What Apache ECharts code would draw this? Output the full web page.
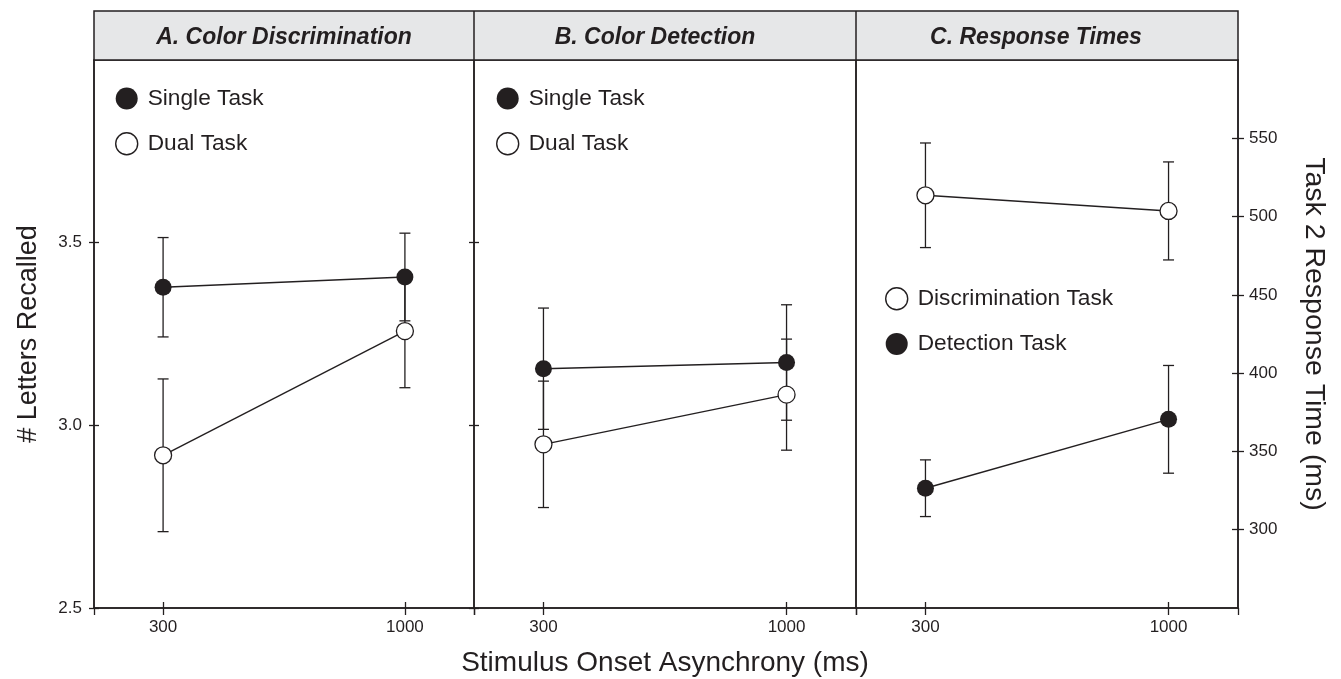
<!DOCTYPE html>
<html>
<head>
<meta charset="utf-8">
<script src="https://cdn.jsdelivr.net/npm/echarts@6/dist/echarts.min.js"></script>
<style>
  html, body { margin: 0; padding: 0; background: #ffffff; }
  #chart { width: 1341px; height: 679px; }
</style>
</head>
<body>
<div id="chart"></div>
<script>
// Stimulus onset asynchrony levels (ms)
const soa = [300, 1000];
const panelTitles = ['A. Color Discrimination', 'B. Color Detection', 'C. Response Times'];
const recallTicks = [2.5, 3.0, 3.5];
const rtTicks = [300, 350, 400, 450, 500, 550];

// Panel A: letters recalled, colour discrimination as task 2
const discSingle = [3.378, 3.406];
const discSingleErr = [0.136, 0.120];
const discDual = [2.918, 3.258];
const discDualErr = [0.209, 0.155];

// Panel B: letters recalled, colour detection as task 2
const detSingle = [3.155, 3.172];
const detSingleErr = [0.166, 0.158];
const detDual = [2.948, 3.084];
const detDualErr = [0.173, 0.152];

// Panel C: task 2 response times (ms)
const rtDisc = [513.6, 503.6];
const rtDiscErr = [33.4, 31.3];
const rtDet = [326.5, 370.5];
const rtDetErr = [18.1, 34.4];

const INK = '#231f20';
const FONT = '"Liberation Sans", Arial, Helvetica, sans-serif';

const pts = (vals) => soa.map((x, i) => [x, vals[i]]);
const bars = (vals, errs) => soa.map((x, i) => [x, vals[i] - errs[i], vals[i] + errs[i]]);

function renderErr(params, api) {
  const x = api.value(0);
  const lo = api.coord([x, api.value(1)]);
  const hi = api.coord([x, api.value(2)]);
  const cap = 5.5;
  const style = { stroke: INK, lineWidth: 1.3 };
  return {
    type: 'group',
    children: [
      { type: 'line', shape: { x1: lo[0], y1: lo[1], x2: hi[0], y2: hi[1] }, style },
      { type: 'line', shape: { x1: lo[0] - cap, y1: lo[1], x2: lo[0] + cap, y2: lo[1] }, style },
      { type: 'line', shape: { x1: hi[0] - cap, y1: hi[1], x2: hi[0] + cap, y2: hi[1] }, style }
    ]
  };
}

function errSeries(name, xi, yi, vals, errs) {
  return {
    name: name, type: 'custom', xAxisIndex: xi, yAxisIndex: yi, z: 1,
    renderItem: renderErr, encode: { x: 0, y: [1, 2] },
    data: bars(vals, errs), silent: true
  };
}

function lineSeries(name, xi, yi, vals, filled) {
  return {
    name: name, type: 'line', xAxisIndex: xi, yAxisIndex: yi, z: 3,
    data: pts(vals), symbol: 'circle', symbolSize: 17,
    lineStyle: { color: INK, width: 1.4 },
    itemStyle: filled
      ? { color: INK, borderColor: INK, borderWidth: 0 }
      : { color: '#ffffff', borderColor: INK, borderWidth: 1.3 },
    emphasis: { disabled: true }
  };
}

// Panel geometry
const gridLeft = [94, 474, 856];
const gridWidth = [380, 382, 382];
const gridTop = 60, gridHeight = 548;

const grids = gridLeft.map((l, i) => ({
  left: l, top: gridTop, width: gridWidth[i], height: gridHeight,
  outerBoundsMode: 'none', containLabel: false,
  show: true, borderColor: INK, borderWidth: 1.5, backgroundColor: 'transparent'
}));

const xAxes = [];
gridLeft.forEach((l, i) => {
  // main axis: line, labels, downward boundary ticks
  xAxes.push({
    type: 'value', gridIndex: i, min: 100, max: 1200, position: 'bottom',
    name: i === 1 ? 'Stimulus Onset Asynchrony (ms)' : '',
    nameLocation: 'middle', nameGap: 41,
    nameTextStyle: { fontFamily: FONT, fontSize: 28, color: INK },
    axisLine: { show: true, lineStyle: { color: INK, width: 1.5 } },
    axisTick: { show: true, customValues: [100, 1200], length: 7, lineStyle: { color: INK, width: 1.3 } },
    axisLabel: { show: true, customValues: soa, margin: 11, fontFamily: FONT, fontSize: 17, color: INK,
                 formatter: (v) => String(v) },
    splitLine: { show: false }
  });
  // crossing ticks at the SOA levels
  xAxes.push({
    type: 'value', gridIndex: i, min: 100, max: 1200, position: 'bottom', offset: -6,
    axisLine: { show: false },
    axisTick: { show: true, customValues: soa, length: 13, lineStyle: { color: INK, width: 1.3 } },
    axisLabel: { show: false },
    splitLine: { show: false }
  });
});

const recallTickAxis = (gi, pos) => ({
  type: 'value', gridIndex: gi, min: 2.5, max: 4.0, position: pos, offset: -5,
  axisLine: { show: false },
  axisTick: { show: true, customValues: recallTicks, length: 10, lineStyle: { color: INK, width: 1.3 } },
  axisLabel: { show: false },
  splitLine: { show: false }
});

const yAxes = [
  {
    type: 'value', gridIndex: 0, min: 2.5, max: 4.0, position: 'left',
    name: '# Letters Recalled', nameLocation: 'middle', nameRotate: 90, nameGap: 52,
    nameTextStyle: { fontFamily: FONT, fontSize: 27, color: INK },
    axisLine: { show: true, lineStyle: { color: INK, width: 1.5 } },
    axisTick: { show: false },
    axisLabel: { customValues: recallTicks, margin: 12, fontFamily: FONT, fontSize: 17, color: INK,
                 formatter: (v) => Number(v).toFixed(1) },
    splitLine: { show: false }
  },
  recallTickAxis(0, 'left'),
  recallTickAxis(0, 'right'),
  { type: 'value', gridIndex: 1, min: 2.5, max: 4.0, show: false },
  {
    type: 'value', gridIndex: 2, min: 250, max: 600, position: 'right',
    name: 'Task 2 Response Time (ms)', nameLocation: 'middle', nameRotate: -90, nameGap: 61,
    nameTextStyle: { fontFamily: FONT, fontSize: 28.5, color: INK },
    axisLine: { show: true, lineStyle: { color: INK, width: 1.5 } },
    axisTick: { show: false },
    axisLabel: { customValues: rtTicks, margin: 11, fontFamily: FONT, fontSize: 17, color: INK },
    splitLine: { show: false }
  },
  {
    type: 'value', gridIndex: 2, min: 250, max: 600, position: 'right', offset: -6,
    axisLine: { show: false },
    axisTick: { show: true, customValues: rtTicks, length: 12, lineStyle: { color: INK, width: 1.3 } },
    axisLabel: { show: false },
    splitLine: { show: false }
  }
];

const series = [
  errSeries('Single Task', 0, 0, discSingle, discSingleErr),
  errSeries('Dual Task', 0, 0, discDual, discDualErr),
  lineSeries('Dual Task', 0, 0, discDual, false),
  lineSeries('Single Task', 0, 0, discSingle, true),

  errSeries('Single Task', 2, 3, detSingle, detSingleErr),
  errSeries('Dual Task', 2, 3, detDual, detDualErr),
  lineSeries('Dual Task', 2, 3, detDual, false),
  lineSeries('Single Task', 2, 3, detSingle, true),

  errSeries('Discrimination Task', 4, 4, rtDisc, rtDiscErr),
  errSeries('Detection Task', 4, 4, rtDet, rtDetErr),
  lineSeries('Discrimination Task', 4, 4, rtDisc, false),
  lineSeries('Detection Task', 4, 4, rtDet, true)
];

const filledIcon = { color: INK, borderColor: INK, borderWidth: 0 };
const openIcon = { color: '#ffffff', borderColor: INK, borderWidth: 1.4 };

function legendBlock(left, top, items) {
  return {
    orient: 'vertical', left: left, top: top, icon: 'circle',
    itemWidth: 32, itemHeight: 22, itemGap: 22, selectedMode: false,
    textStyle: { fontFamily: FONT, fontSize: 22.7, color: INK },
    data: items
  };
}

const legends = [
  legendBlock(110, 82, [
    { name: 'Single Task', itemStyle: filledIcon },
    { name: 'Dual Task', itemStyle: openIcon }
  ]),
  legendBlock(491, 82, [
    { name: 'Single Task', itemStyle: filledIcon },
    { name: 'Dual Task', itemStyle: openIcon }
  ]),
  legendBlock(880, 282, [
    { name: 'Discrimination Task', itemStyle: openIcon },
    { name: 'Detection Task', itemStyle: filledIcon }
  ])
];

// Shaded header strip with the panel titles
const titleCenters = [284, 655, 1036];
const headerGraphics = [
  { type: 'rect', shape: { x: 94, y: 11, width: 1144, height: 49 },
    style: { fill: '#e6e7e8', stroke: INK, lineWidth: 1.5 }, z: 0 },
  { type: 'line', shape: { x1: 474, y1: 11, x2: 474, y2: 60 }, style: { stroke: INK, lineWidth: 1.5 } },
  { type: 'line', shape: { x1: 856, y1: 11, x2: 856, y2: 60 }, style: { stroke: INK, lineWidth: 1.5 } }
].concat(panelTitles.map((t, i) => ({
  type: 'text', x: titleCenters[i], y: 38,
  style: { text: t, fill: INK, font: 'italic bold 23px ' + FONT, textAlign: 'center', textVerticalAlign: 'middle' }
})));

const chart = echarts.init(document.getElementById('chart'), null, { renderer: 'canvas' });
chart.setOption({
  animation: false,
  backgroundColor: '#ffffff',
  grid: grids,
  xAxis: xAxes,
  yAxis: yAxes,
  legend: legends,
  graphic: headerGraphics,
  series: series
});
</script>
</body>
</html>
